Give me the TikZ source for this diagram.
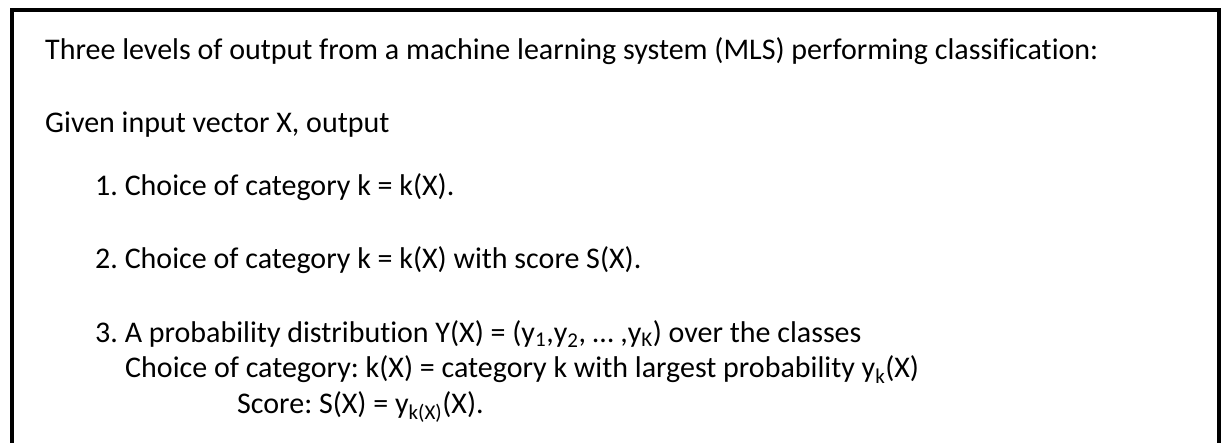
\documentclass[tikz,border=0pt]{standalone}
\usepackage{fontspec}
\setmainfont[Ligatures={NoCommon}]{Carlito}
\usepackage{tikz}
\frenchspacing

\begin{document}
\begin{tikzpicture}[x=1pt,y=-1pt]
\tikzstyle{every node}+=[inner sep=0pt, anchor=base west, font=\fontsize{30}{35}\selectfont]
\useasboundingbox (0,0) rectangle (1221,442);
\draw [black, line width=4pt] (12,450) -- (12,10) -- (1219,10) -- (1219,450);
\node (title) at (45,59) {Three levels of output from a machine learning system (MLS) performing classification:};
\node (given) at (45,132) {Given input vector X, output};
\node (one) at (95,195) {1. Choice of category k = k(X).};
\node (two) at (95,268) {2. Choice of category k = k(X) with score S(X).};
\node (three) at (95,342) {3. A probability distribution Y(X) = (y\textsubscript{1},y\textsubscript{2}, … ,y\textsubscript{K}) over the classes};
\node (choice) at (125,377) {Choice of category: k(X) = category k with largest probability y\textsubscript{k}(X)};
\node (score) at (237,413) {Score: S(X) = y\textsubscript{k(X)}(X).};
\end{tikzpicture}
\end{document}
